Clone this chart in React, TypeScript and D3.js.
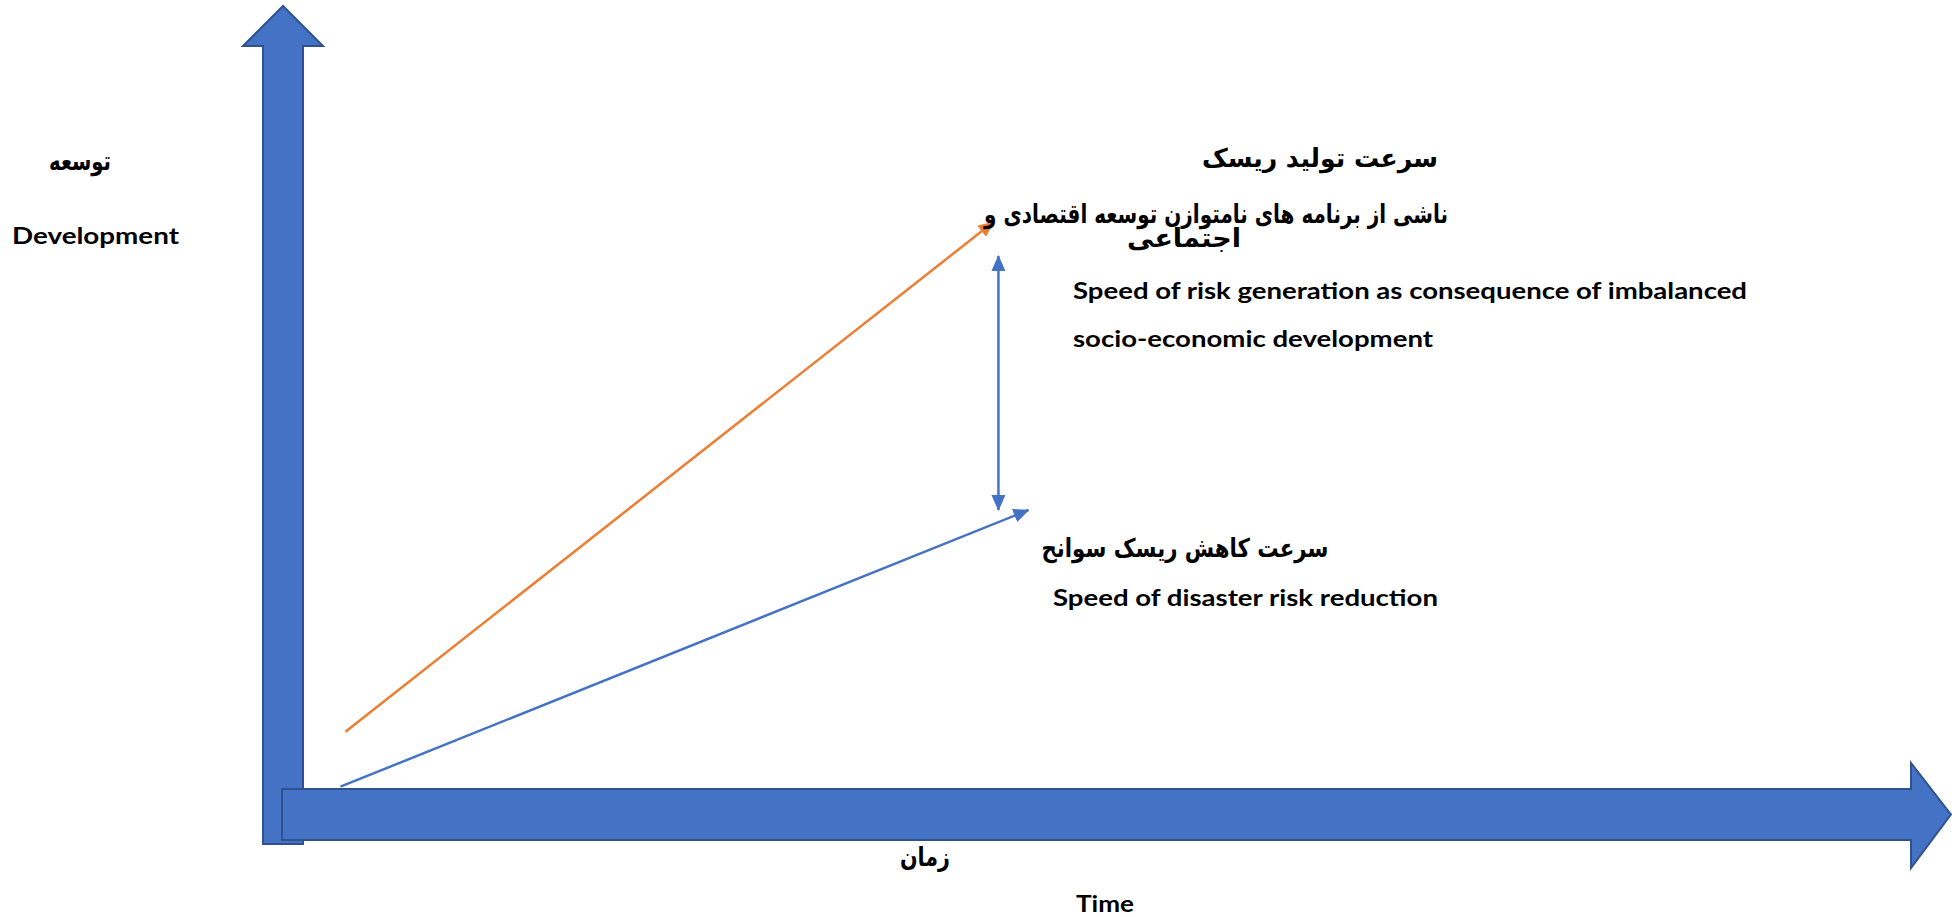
import React from 'react';
import * as d3 from 'd3';

// Conceptual chart: development vs time, two speeds
const lineKeys = ['generation', 'reduction'];
const lineColors = ['#ED7D31', '#4472C4'];
const lineStartX = [3.8, 3.5];
const lineStartY = [10.3, 3.5];
const lineEndX = [42.6, 44.7];
const lineEndY = [73.3, 37.7];

// vertical gap between the two speeds
const gapX = 42.9;
const gapY = [69.1, 37.7];

const persianLabels = [
  { text: 'توسعه', x: 80, y: 170, len: 62 },
  { text: 'سرعت تولید ریسک', x: 1320, y: 167, len: 236 },
  { text: 'ناشی از برنامه های نامتوازن توسعه اقتصادی و', x: 1216, y: 223, len: 464 },
  { text: 'اجتماعی', x: 1184, y: 247, len: 114 },
  { text: 'سرعت کاهش ریسک سوانح', x: 1185, y: 557, len: 287 },
  { text: 'زمان', x: 925, y: 866, len: 50 },
];

const englishLabels = [
  { text: 'Development', x: 12, y: 244, len: 167 },
  { text: 'Speed of risk generation as consequence of imbalanced', x: 1073, y: 299, len: 674 },
  { text: 'socio-economic development', x: 1073, y: 347, len: 360 },
  { text: 'Speed of disaster risk reduction', x: 1053, y: 606, len: 385 },
  { text: 'Time', x: 1076, y: 912, len: 58 },
];

const W = 1952;
const H = 917;

export default function App() {
  const x = d3.scaleLinear().domain([0, 100]).range([282, 1952]);
  const y = d3.scaleLinear().domain([0, 100]).range([815, 6]);

  // big axis arrows
  const vShaft = [263, 303];
  const vHead = [243, 323];
  const vHeadBase = 46;
  const vBottom = 844;
  const vTip = 6;
  const vMid = (vShaft[0] + vShaft[1]) / 2;

  const hShaft = [789, 840];
  const hHead = [763, 868];
  const hHeadBase = 1911;
  const hLeft = 282;
  const hTip = 1951;
  const hMid = (hShaft[0] + hShaft[1]) / 2;

  const vPath = d3.path();
  vPath.moveTo(vShaft[0], vBottom);
  vPath.lineTo(vShaft[0], vHeadBase);
  vPath.lineTo(vHead[0], vHeadBase);
  vPath.lineTo(vMid, vTip);
  vPath.lineTo(vHead[1], vHeadBase);
  vPath.lineTo(vShaft[1], vHeadBase);
  vPath.lineTo(vShaft[1], vBottom);
  vPath.closePath();

  const hPath = d3.path();
  hPath.moveTo(hLeft, hShaft[0]);
  hPath.lineTo(hHeadBase, hShaft[0]);
  hPath.lineTo(hHeadBase, hHead[0]);
  hPath.lineTo(hTip, hMid);
  hPath.lineTo(hHeadBase, hHead[1]);
  hPath.lineTo(hHeadBase, hShaft[1]);
  hPath.lineTo(hLeft, hShaft[1]);
  hPath.closePath();

  return (
    <svg
      width={W}
      height={H}
      viewBox={`0 0 ${W} ${H}`}
      style={{ position: 'absolute', left: 0, top: 0, display: 'block', background: '#fff' }}
    >
      <defs>
        {lineKeys.map((k, i) => (
          <marker
            key={k}
            id={`head-${k}`}
            markerUnits="userSpaceOnUse"
            markerWidth={16}
            markerHeight={14}
            refX={15}
            refY={7}
            orient="auto-start-reverse"
          >
            <path d="M0,0 L16,7 L0,14 Z" fill={lineColors[i]} />
          </marker>
        ))}
      </defs>

      {/* axes */}
      <path d={vPath.toString()} fill="#4472C4" stroke="#2F528F" strokeWidth={2} />
      <path d={hPath.toString()} fill="#4472C4" stroke="#2F528F" strokeWidth={2} />

      {/* speed lines */}
      {lineKeys.map((k, i) => (
        <line
          key={k}
          x1={x(lineStartX[i])}
          y1={y(lineStartY[i])}
          x2={x(lineEndX[i])}
          y2={y(lineEndY[i])}
          stroke={lineColors[i]}
          strokeWidth={2.5}
          markerEnd={`url(#head-${k})`}
        />
      ))}

      {/* gap double arrow */}
      <line
        x1={x(gapX)}
        y1={y(gapY[0])}
        x2={x(gapX)}
        y2={y(gapY[1])}
        stroke="#4472C4"
        strokeWidth={2.5}
        markerStart="url(#head-reduction)"
        markerEnd="url(#head-reduction)"
      />

      {persianLabels.map((d) => (
        <text
          key={d.text}
          x={d.x}
          y={d.y}
          textAnchor="middle"
          fontFamily="'DejaVu Sans', sans-serif"
          fontWeight="bold"
          fontSize={26}
          textLength={d.len}
          lengthAdjust="spacingAndGlyphs"
          fill="#000"
        >
          {d.text}
        </text>
      ))}

      {englishLabels.map((d) => (
        <text
          key={d.text}
          x={d.x}
          y={d.y}
          fontFamily="Lato, 'Open Sans', sans-serif"
          fontWeight="bold"
          fontSize={23}
          textLength={d.len}
          lengthAdjust="spacingAndGlyphs"
          fill="#000"
        >
          {d.text}
        </text>
      ))}
    </svg>
  );
}
